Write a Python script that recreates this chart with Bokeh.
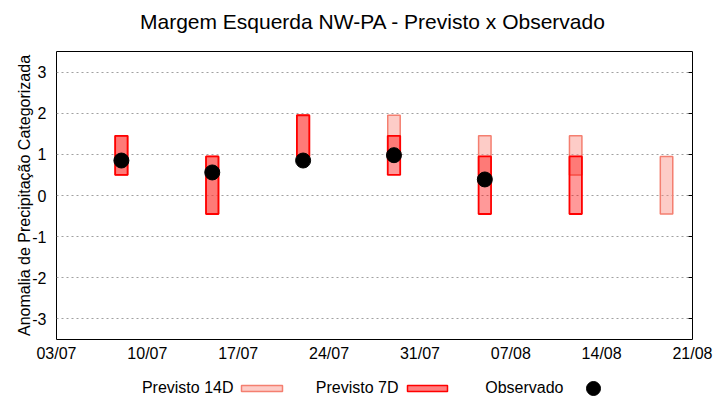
import pandas as pd
from bokeh.plotting import figure
from bokeh.layouts import column
from bokeh.models import (Range1d, FixedTicker, DatetimeTickFormatter, ColumnDataSource,
                          LinearAxis)
from bokeh.core.properties import value
from bokeh.embed import file_html
from bokeh.resources import INLINE

# ---------------- data ----------------
YEAR = 2024
title_text = "Margem Esquerda NW-PA - Previsto x Observado"
y_label = "Anomalia de Precipitação Categorizada"
x_tick_labels = ["03/07", "10/07", "17/07", "24/07", "31/07", "07/08", "14/08", "21/08"]
y_ticks = [-3, -2, -1, 0, 1, 2, 3]
y_tick_labels = ["-3", "-2", "-1", "0", "1", "2", "3"]

dates = ["08/07", "15/07", "22/07", "29/07", "05/08", "12/08", "19/08"]
p14_low = [0.5, -0.45, 0.95, 0.95, 0.5, 0.5, -0.45]
p14_high = [1.45, 0.95, 1.95, 1.95, 1.45, 1.45, 0.95]
p7_low = [0.5, -0.45, 0.95, 0.5, -0.45, -0.45, None]
p7_high = [1.45, 0.95, 1.95, 1.45, 0.95, 0.95, None]
observed = [0.85, 0.56, 0.85, 0.98, 0.39, None, None]

legend_labels = ["Previsto 14D", "Previsto 7D", "Observado"]

FONT = "Liberation Sans"
C14_FILL = "#fa8072"
C14_LINE = "#f47f70"
C7 = "#ff0000"


def to_ts(s):
    d, m = s.split("/")
    return pd.Timestamp(year=YEAR, month=int(m), day=int(d))


x_dates = [to_ts(s) for s in dates]
tick_ts = [to_ts(s) for s in x_tick_labels]
tick_ms = [int(t.value // 10**6) for t in tick_ts]
DAY_MS = 86400000

src14 = ColumnDataSource(dict(x=x_dates, bottom=p14_low, top=p14_high))
idx7 = [i for i, v in enumerate(p7_low) if v is not None]
src7 = ColumnDataSource(dict(x=[x_dates[i] for i in idx7],
                             bottom=[p7_low[i] for i in idx7],
                             top=[p7_high[i] for i in idx7]))
idxo = [i for i, v in enumerate(observed) if v is not None]
srco = ColumnDataSource(dict(x=[x_dates[i] for i in idxo],
                             y=[observed[i] for i in idxo]))

W = 720
BL, BR = 56, 28          # left / right borders (frame = 56..692)
FW = W - BL - BR


def blank(height):
    f = figure(width=W, height=height, x_range=Range1d(0, FW), y_range=Range1d(0, height),
               toolbar_location=None, output_backend="svg", title=None,
               min_border_left=BL, min_border_right=BR, min_border_top=0, min_border_bottom=0,
               x_axis_location=None, y_axis_location=None)
    f.grid.visible = False
    f.outline_line_color = None
    return f


# ---------------- title ----------------
t = blank(48)
t.text(x=[316.5], y=[27.3], text=[title_text], text_font=value(FONT),
       text_font_size="21px", text_align="center", text_baseline="middle",
       text_color="black")

# ---------------- main plot ----------------
p = figure(width=W, height=320, x_axis_type="datetime", title=None,
           x_range=Range1d(tick_ts[0], tick_ts[-1]), y_range=Range1d(-3.5, 3.5),
           toolbar_location=None, output_backend="svg",
           min_border_left=BL, min_border_right=BR, min_border_top=3, min_border_bottom=29)
p.outline_line_color = "black"
p.outline_line_width = 1
p.xgrid.visible = False
p.ygrid.grid_line_color = "#a0a0a0"
p.ygrid.grid_line_dash = "2 3"
p.ygrid.grid_line_width = 1

p.vbar(x="x", width=0.96 * DAY_MS, bottom="bottom", top="top", source=src14,
       fill_color=C14_FILL, fill_alpha=0.4, line_color=C14_LINE, line_width=1.5)
p.vbar(x="x", width=0.96 * DAY_MS, bottom="bottom", top="top", source=src7,
       fill_color=C7, fill_alpha=0.4, line_color=C7, line_width=1.8)
p.scatter(x="x", y="y", source=srco, size=15, marker="circle",
          fill_color="black", line_color="black")

p.xaxis.ticker = FixedTicker(ticks=tick_ms)
p.xaxis.formatter = DatetimeTickFormatter(days="%d/%m", months="%d/%m", hours="%d/%m",
                                          years="%d/%m", context=None)
p.yaxis.ticker = FixedTicker(ticks=y_ticks)
p.yaxis.major_label_overrides = dict(zip(y_ticks, y_tick_labels))
for ax in (p.xaxis[0], p.yaxis[0]):
    ax.axis_line_color = None
    ax.major_tick_out = 0
    ax.major_tick_in = 0
    ax.minor_tick_line_color = None
    ax.major_label_text_font = FONT
    ax.major_label_text_font_size = "16px"
    ax.major_label_text_color = "black"
p.xaxis.major_label_standoff = 5
p.yaxis.major_label_standoff = 10
p.yaxis.axis_label = y_label
p.yaxis.axis_label_text_font = FONT
p.yaxis.axis_label_text_font_size = "16px"
p.yaxis.axis_label_text_font_style = "normal"
p.yaxis.axis_label_text_color = "black"
p.yaxis.axis_label_standoff = -4

# mirror ticks on the right border (inward)
right_ax = LinearAxis(ticker=FixedTicker(ticks=y_ticks),
                      major_label_overrides={v: "" for v in y_ticks},
                      axis_line_color=None, major_tick_in=4, major_tick_out=0,
                      major_tick_line_color="black", major_tick_line_width=1,
                      minor_tick_line_color=None, major_label_standoff=0,
                      major_label_text_font_size="1px")
p.add_layout(right_ax, "right")

# ---------------- legend ----------------
lg = blank(32)
lg.text(x=[233 - BL, 398 - BL, 563 - BL], y=[13.5, 13.5, 13.5], text=legend_labels,
        text_font=value(FONT), text_font_size="16px", text_align="right",
        text_baseline="middle", text_color="black")
lg.quad(left=[241 - BL], right=[282 - BL], bottom=[9], top=[15], fill_color=C14_FILL,
        fill_alpha=0.4, line_color=C14_LINE, line_width=1.5)
lg.quad(left=[407 - BL], right=[447 - BL], bottom=[9], top=[15], fill_color=C7,
        fill_alpha=0.5, line_color=C7, line_width=1.5)
lg.scatter(x=[593 - BL], y=[12], size=14, marker="circle", fill_color="black",
           line_color="black")

layout = column(t, p, lg, spacing=0)
open("out.html", "w").write(file_html(layout, INLINE))
